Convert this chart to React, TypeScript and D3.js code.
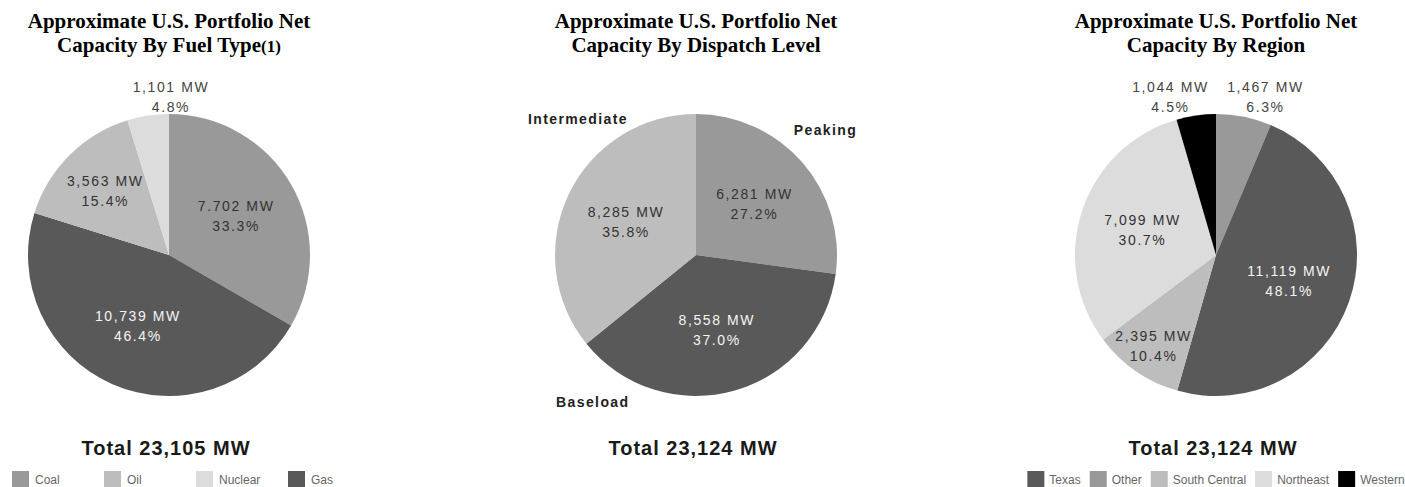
import React, { useEffect, useRef } from 'react'
import * as d3 from 'd3'

const width = 1405
const height = 487

// slices run clockwise from 12 o'clock
const fuelTypes = ['Coal', 'Gas', 'Oil', 'Nuclear']
const fuelMW = [7702, 10739, 3563, 1101]
const fuelPct = [33.3, 46.4, 15.4, 4.8]
const fuelMWText = ['7.702 MW', '10,739 MW', '3,563 MW', '1,101 MW']
const fuelLegend = ['Coal', 'Oil', 'Nuclear', 'Gas']

const dispatchLevels = ['Peaking', 'Baseload', 'Intermediate']
const dispatchMW = [6281, 8558, 8285]
const dispatchPct = [27.2, 37.0, 35.8]

const regions = ['Other', 'Texas', 'South Central', 'Northeast', 'Western']
const regionMW = [1467, 11119, 2395, 7099, 1044]
const regionPct = [6.3, 48.1, 10.4, 30.7, 4.5]
const regionLegend = ['Texas', 'Other', 'South Central', 'Northeast', 'Western']

const titles = [
  ['Approximate U.S. Portfolio Net', 'Capacity By Fuel Type'],
  ['Approximate U.S. Portfolio Net', 'Capacity By Dispatch Level'],
  ['Approximate U.S. Portfolio Net', 'Capacity By Region'],
]
const totals = ['Total 23,105 MW', 'Total 23,124 MW', 'Total 23,124 MW']

const shade: Record<string, string> = {
  Coal: '#999999', Gas: '#595959', Oil: '#bdbdbd', Nuclear: '#dcdcdc',
  Peaking: '#999999', Baseload: '#595959', Intermediate: '#bdbdbd',
  Other: '#999999', Texas: '#595959', 'South Central': '#bdbdbd', Northeast: '#dcdcdc', Western: '#000000',
}
const darkSlices = ['Gas', 'Baseload', 'Texas', 'Western']

// placement of the bold category names around the dispatch pie (degrees from 12 o'clock)
const dispatchLabelAngle: Record<string, number> = { Peaking: 46, Baseload: 215, Intermediate: 319 }

const R = 141
const cy = 255
const sans = '"Liberation Sans", Arial, Helvetica, sans-serif'
const serif = '"Liberation Serif", "Times New Roman", serif'

const charts = [
  { cx: 169, cats: fuelTypes, mw: fuelMW, pct: fuelPct, text: fuelMWText, legend: fuelLegend, legendMode: 'columns', note: '(1)', catLabels: false },
  { cx: 696, cats: dispatchLevels, mw: dispatchMW, pct: dispatchPct, text: null, legend: null, legendMode: '', note: '', catLabels: true },
  { cx: 1216, cats: regions, mw: regionMW, pct: regionPct, text: null, legend: regionLegend, legendMode: 'flow', note: '', catLabels: false },
]

const fmt = d3.format(',')
const pctFmt = d3.format('.1f')

const App = () => {
  const ref = useRef<SVGSVGElement>(null)

  useEffect(() => {
    const svg = d3.select(ref.current)
    svg.selectAll('*').remove()

    const pie = d3.pie<number>().sort(null).value(d => d)
    const arc = d3.arc<d3.PieArcDatum<number>>().innerRadius(0).outerRadius(R)

    charts.forEach((c, ci) => {
      const g = svg.append('g')

      // title
      const t = g.append('text')
        .attr('text-anchor', 'middle')
        .attr('font-family', serif)
        .attr('font-weight', 'bold')
        .attr('font-size', 21)
        .attr('fill', '#000')
      t.append('tspan').attr('x', c.cx).attr('y', 28).text(titles[ci][0])
      t.append('tspan').attr('x', c.cx).attr('y', 52).text(titles[ci][1])
      if (c.note) {
        t.append('tspan').attr('font-size', 17).text(c.note)
      }

      const arcs = pie(c.mw)
      const pg = g.append('g').attr('transform', `translate(${c.cx},${cy})`)
      pg.selectAll('path')
        .data(arcs)
        .join('path')
        .attr('d', arc)
        .attr('fill', (d, i) => shade[c.cats[i]])

      const outside: { i: number; s: number }[] = []
      arcs.forEach((a, i) => {
        const frac = c.pct[i] / 100
        const mid = (a.startAngle + a.endAngle) / 2
        const mwText = c.text ? c.text[i] : fmt(c.mw[i]) + ' MW'
        const pText = pctFmt(c.pct[i]) + '%'
        if (frac < 0.07) {
          outside.push({ i, s: Math.sin(mid) })
          return
        }
        const rl = R * (frac < 0.12 ? 0.78 : frac < 0.2 ? 0.64 : 0.55)
        const x = Math.sin(mid) * rl
        const y = -Math.cos(mid) * rl
        const fill = darkSlices.includes(c.cats[i]) ? '#f4f4f4' : '#333'
        const lt = pg.append('text')
          .attr('text-anchor', 'middle')
          .attr('font-family', sans)
          .attr('font-size', 14)
          .attr('letter-spacing', 1.6)
          .attr('fill', fill)
        lt.append('tspan').attr('x', x).attr('y', y - 5).text(mwText)
        lt.append('tspan').attr('x', x).attr('y', y + 15).text(pText)
      })

      // small slices are labelled above the pie, spread side by side
      outside.sort((a, b) => a.s - b.s)
      outside.forEach((o, k) => {
        const x = (k - (outside.length - 1) / 2) * 95 + 2
        const mwText = c.text ? c.text[o.i] : fmt(c.mw[o.i]) + ' MW'
        const lt = pg.append('text')
          .attr('text-anchor', 'middle')
          .attr('font-family', sans)
          .attr('font-size', 14)
          .attr('letter-spacing', 1.6)
          .attr('fill', '#444')
        lt.append('tspan').attr('x', x).attr('y', -R - 22).text(mwText)
        lt.append('tspan').attr('x', x).attr('y', -R - 2).text(pctFmt(c.pct[o.i]) + '%')
      })

      if (c.catLabels) {
        c.cats.forEach(cat => {
          const ang = (dispatchLabelAngle[cat] * Math.PI) / 180
          pg.append('text')
            .attr('text-anchor', 'middle')
            .attr('font-family', sans)
            .attr('font-weight', 'bold')
            .attr('font-size', 14)
            .attr('letter-spacing', 1.4)
            .attr('fill', '#222')
            .attr('x', Math.sin(ang) * 180)
            .attr('y', -Math.cos(ang) * 180 + 5)
            .text(cat)
        })
      }

      // total
      g.append('text')
        .attr('x', c.cx - 3)
        .attr('y', 455)
        .attr('text-anchor', 'middle')
        .attr('font-family', sans)
        .attr('font-weight', 'bold')
        .attr('font-size', 20)
        .attr('letter-spacing', 1)
        .attr('fill', '#1a1a1a')
        .text(totals[ci])

      // legend
      if (c.legend) {
        const lg = g.append('g')
        if (c.legendMode === 'columns') {
          c.legend.forEach((name, k) => {
            const x = c.cx - 157 + k * 92
            lg.append('rect').attr('x', x).attr('y', 471).attr('width', 17).attr('height', 16).attr('fill', shade[name])
            lg.append('text').attr('x', x + 23).attr('y', 484)
              .attr('font-family', sans).attr('font-size', 12).attr('fill', '#666').text(name)
          })
        } else {
          let x = 0
          c.legend.forEach(name => {
            lg.append('rect').attr('x', x).attr('y', 471).attr('width', 17).attr('height', 16).attr('fill', shade[name])
            const tx = lg.append('text').attr('x', x + 22).attr('y', 484)
              .attr('font-family', sans).attr('font-size', 12).attr('fill', '#666').text(name)
            const w = (tx.node() as SVGTextElement).getComputedTextLength()
            x += 22 + w + 9
          })
          const total = x - 9
          lg.attr('transform', `translate(${c.cx - total / 2},0)`)
        }
      }
    })
  }, [])

  return (
    <svg ref={ref} width={width} height={height} style={{ display: 'block', position: 'absolute', left: 0, top: 0, background: '#fff' }} />
  )
}

export default App
